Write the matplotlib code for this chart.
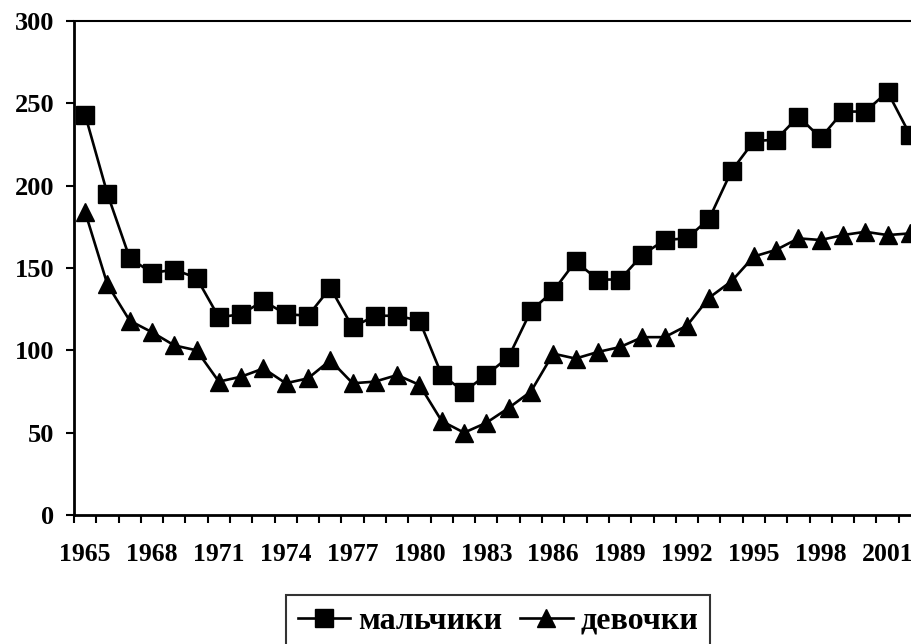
import matplotlib.pyplot as plt
import numpy as np

years = list(range(1965, 2003))
boys = [243, 195, 156, 147, 149, 144, 120, 122, 130, 122, 121, 138,
        114, 121, 121, 118, 85, 75, 85, 96, 124, 136, 154, 143,
        143, 158, 167, 168, 180, 209, 227, 228, 242, 229, 245, 245,
        257, 231]
girls = [184, 140, 118, 111, 103, 100, 81, 84, 89, 80, 83, 94,
         80, 81, 85, 79, 57, 50, 56, 65, 75, 98, 95, 99,
         102, 108, 108, 115, 132, 142, 157, 161, 168, 167, 170, 172,
         170, 171]
label_years = list(range(1965, 2002, 3))

serif = ['Liberation Serif', 'DejaVu Serif']

fig = plt.figure(figsize=(9.12, 6.44), dpi=100)
# plot area runs past the right edge of the picture, as in the original
ax = fig.add_axes([74 / 912, 129 / 644, 847 / 912, 494 / 644])

x = np.arange(len(years))
ax.plot(x, boys, color='black', lw=1.9, marker='s', ms=12.5, label='мальчики')
ax.plot(x, girls, color='black', lw=1.9, marker='^', ms=13, label='девочки')

ax.set_xlim(-0.5, len(years) - 0.5)
ax.set_ylim(0, 300)
ax.set_yticks(range(0, 301, 50))
ax.set_yticklabels([str(v) for v in range(0, 301, 50)],
                   family=serif, weight='bold', fontsize=19)

# ticks between categories, labels at category centres
ax.set_xticks(np.arange(len(years) + 1) - 0.5)
ax.set_xticklabels([])
ax.set_xticks([years.index(y) for y in label_years], minor=True)
ax.set_xticklabels([str(y) for y in label_years], minor=True,
                   family=serif, weight='bold', fontsize=18.5)
ax.tick_params(axis='x', which='minor', length=0, pad=20)
ax.tick_params(axis='x', which='major', length=6, width=1.5, direction='out')
ax.tick_params(axis='y', length=6, width=1.5, direction='out', pad=8)

for s in ['left', 'bottom']:
    ax.spines[s].set_linewidth(2)
ax.spines['top'].set_linewidth(1.5)
ax.spines['right'].set_visible(False)

leg = fig.legend(loc='center', bbox_to_anchor=(498 / 912, 23 / 644), ncol=2,
                 frameon=True, fancybox=False, edgecolor='black',
                 handlelength=1.65, handletextpad=0.25, columnspacing=0.55,
                 borderpad=0.35, borderaxespad=0,
                 prop={'family': serif, 'weight': 'bold', 'size': 23})
leg.get_frame().set_linewidth(1.5)

fig.savefig('out.png', dpi=100)
